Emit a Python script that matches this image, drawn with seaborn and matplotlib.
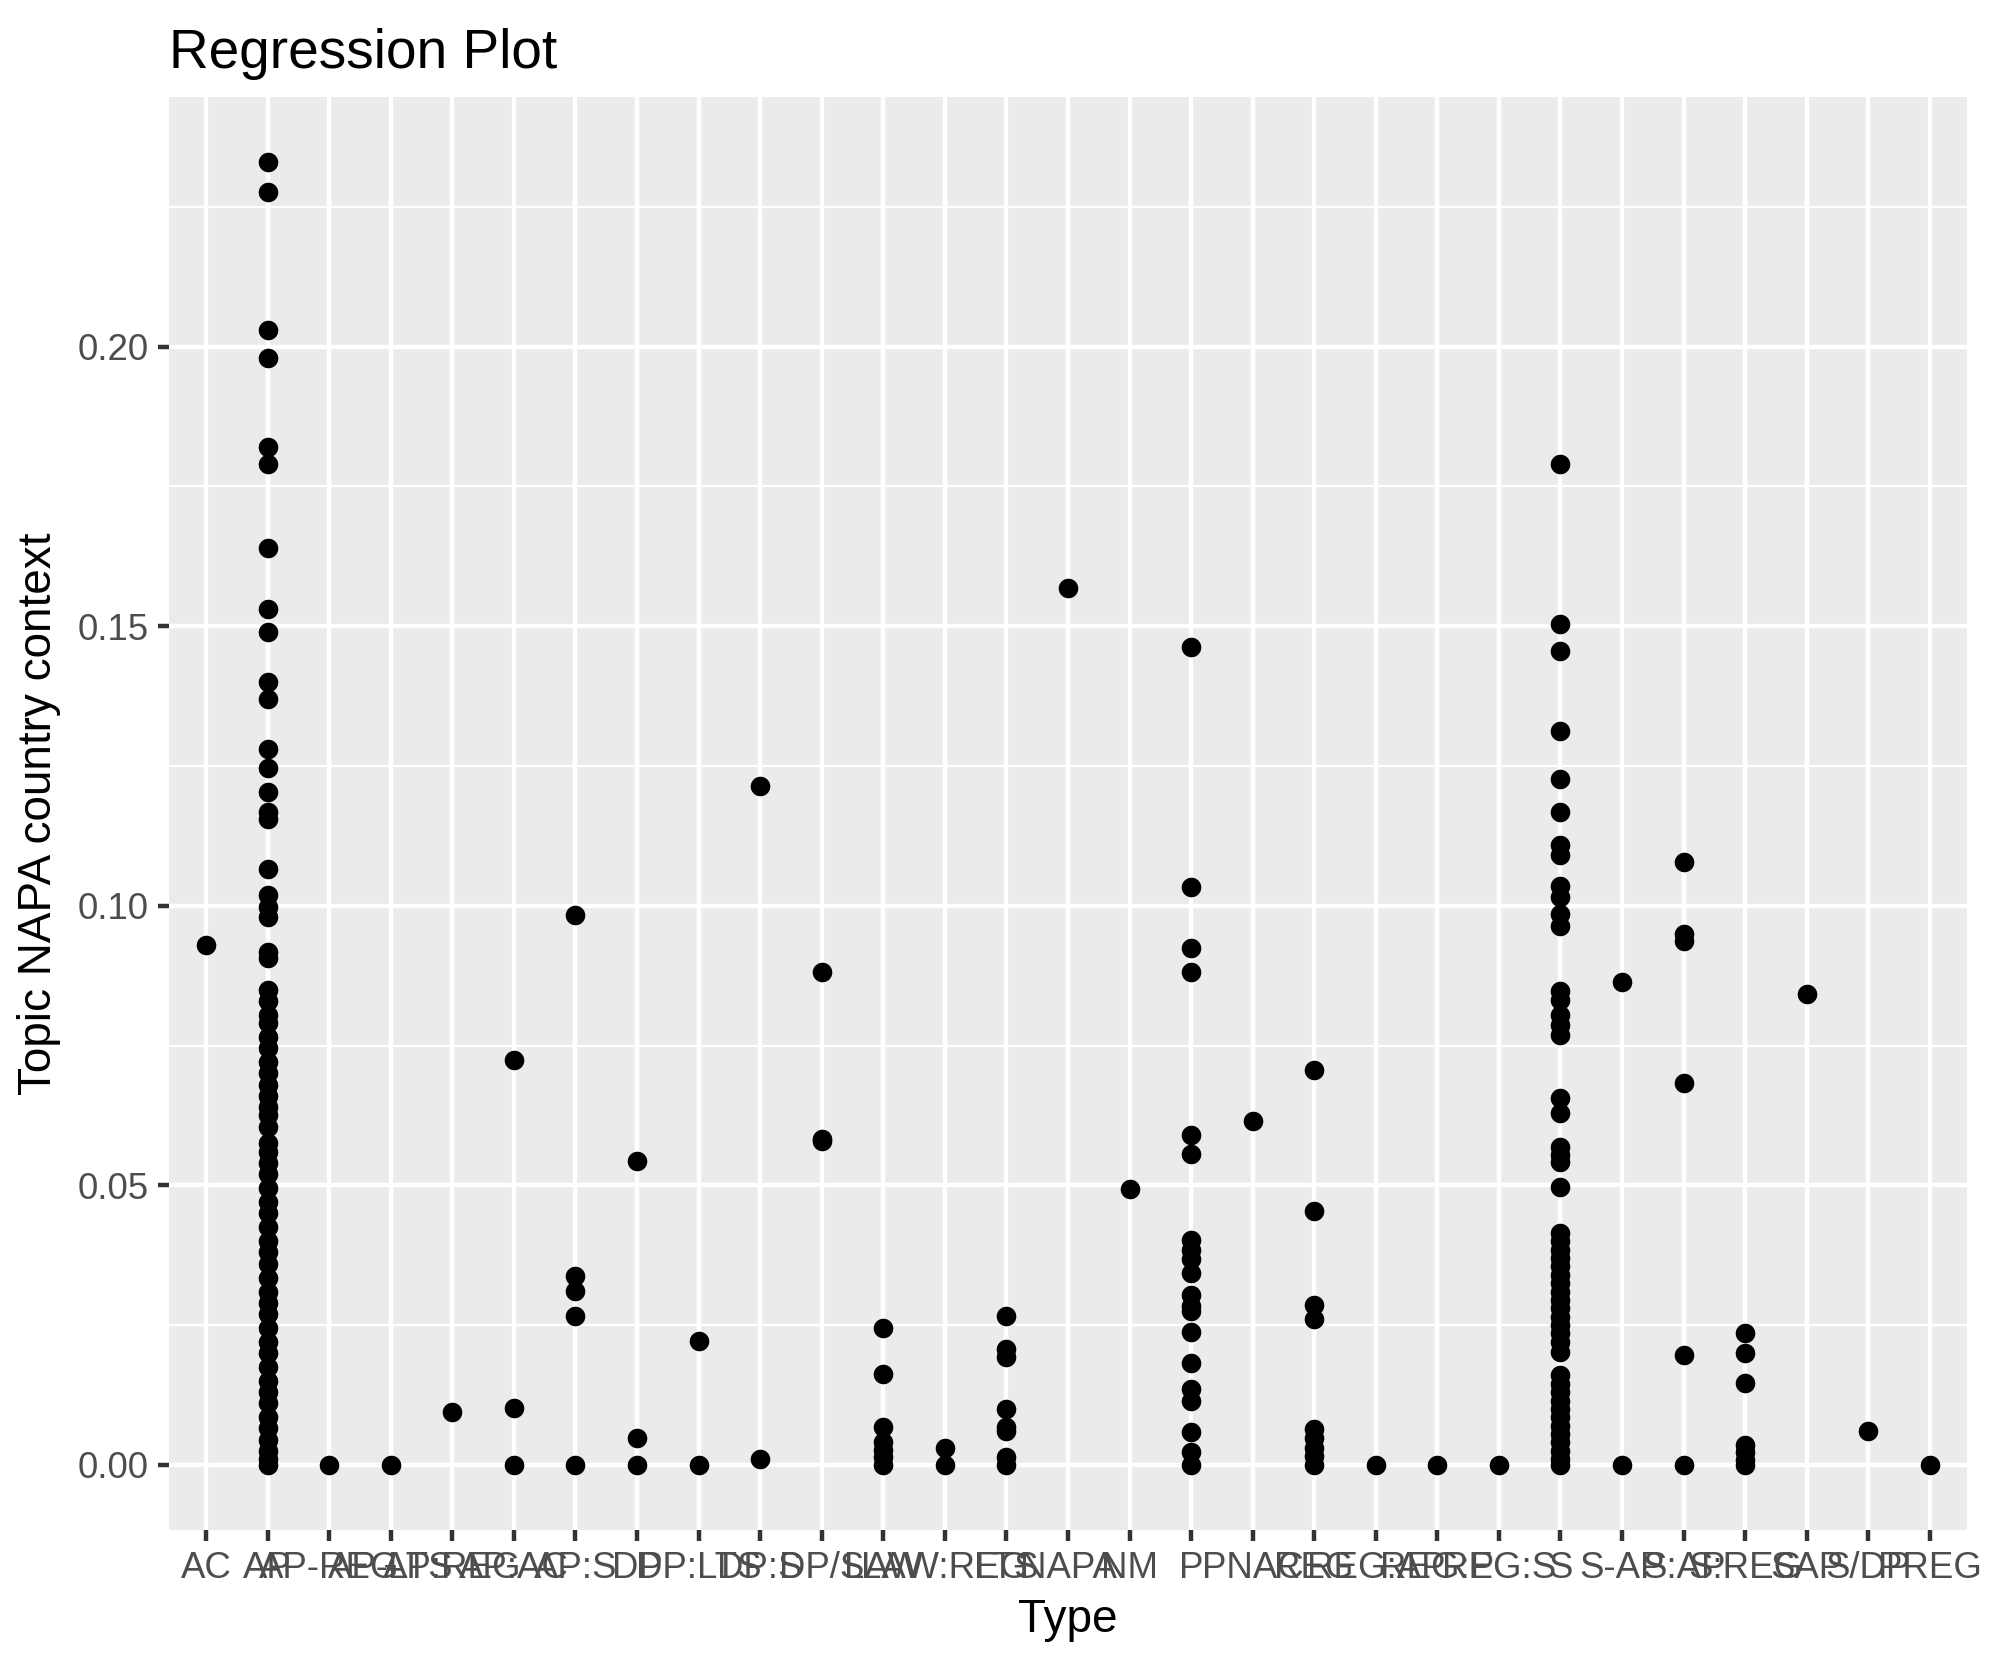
import pandas as pd
import numpy as np
import seaborn as sns
import matplotlib.pyplot as plt
from matplotlib.ticker import MultipleLocator, FormatStrFormatter

# categories in axis order
types = ['AC', 'AP', 'AP-REG', 'AP-LTS', 'AP:REG', 'AP:AC', 'AP:S', 'DP', 'DP:LTS',
         'DP:S', 'DP/S', 'LAW', 'LAW:REG', 'LTS', 'NAPA', 'NM', 'P', 'PNAC', 'REG',
         'REG:AP', 'REG:P', 'REG:S', 'S', 'S-AP', 'S:AP', 'S:REG', 'SAP', 'S/DP', 'PREG']

ac = [0.093]
ap = [0.233, 0.2277, 0.203, 0.198, 0.182, 0.179, 0.164, 0.153, 0.149, 0.140, 0.137,
      0.128, 0.1246, 0.1203, 0.1167, 0.1155, 0.1065, 0.102, 0.0997, 0.098, 0.0917, 0.0906,
      0.085, 0.083, 0.0805, 0.079, 0.0765, 0.0745, 0.072, 0.070, 0.068, 0.066, 0.064,
      0.0625, 0.0605, 0.0575, 0.056, 0.054, 0.052, 0.0495, 0.047, 0.045, 0.0425, 0.040,
      0.038, 0.036, 0.0335, 0.031, 0.029, 0.027, 0.0245, 0.022, 0.020, 0.0175, 0.015,
      0.013, 0.011, 0.0085, 0.0065, 0.0045, 0.0025, 0.001, 0.0]
ap_reg = [0.0]
ap_lts = [0.0]
ap_reg2 = [0.0095]
ap_ac = [0.0724, 0.0102, 0.0]
ap_s = [0.0983, 0.0338, 0.0311, 0.0266, 0.0]
dp = [0.0543, 0.0048, 0.0]
dp_lts = [0.0222, 0.0]
dp_s = [0.1215, 0.0011]
dp_s2 = [0.0881, 0.0583, 0.0579]
law = [0.0245, 0.0163, 0.0068, 0.0041, 0.0027, 0.0014, 0.0]
law_reg = [0.003, 0.0]
lts = [0.0266, 0.0207, 0.0193, 0.0100, 0.0068, 0.0061, 0.0014, 0.0]
napa = [0.1569]
nm = [0.0493]
p = [0.1462, 0.1033, 0.0924, 0.0881, 0.059, 0.0556, 0.0402, 0.0384, 0.0368, 0.0343,
     0.0304, 0.0284, 0.0275, 0.0238, 0.0182, 0.0136, 0.0114, 0.0059, 0.0023, 0.0]
pnac = [0.0615]
reg = [0.0706, 0.0454, 0.0286, 0.0261, 0.0064, 0.0048, 0.003, 0.0016, 0.0]
reg_ap = [0.0]
reg_p = [0.0]
reg_s = [0.0]
s = [0.1791, 0.1504, 0.1456, 0.1313, 0.1227, 0.1167, 0.1108, 0.1091, 0.1036, 0.1016,
     0.0985, 0.0964, 0.0848, 0.0831, 0.0804, 0.0787, 0.0768, 0.0657, 0.063, 0.0568,
     0.0555, 0.0541, 0.0497, 0.0414, 0.040, 0.0385, 0.037, 0.0355, 0.034, 0.0325, 0.031,
     0.0295, 0.028, 0.0265, 0.025, 0.0235, 0.022, 0.0202, 0.016, 0.0145, 0.013, 0.0115,
     0.010, 0.0085, 0.007, 0.0055, 0.004, 0.0025, 0.001, 0.0]
s_ap = [0.0863, 0.0]
s_ap2 = [0.1078, 0.0950, 0.0937, 0.0683, 0.0197, 0.0]
s_reg = [0.0236, 0.0200, 0.0147, 0.0036, 0.0023, 0.0009, 0.0]
sap = [0.0843]
s_dp = [0.0061]
preg = [0.0]

values = [ac, ap, ap_reg, ap_lts, ap_reg2, ap_ac, ap_s, dp, dp_lts, dp_s, dp_s2, law,
          law_reg, lts, napa, nm, p, pnac, reg, reg_ap, reg_p, reg_s, s, s_ap, s_ap2,
          s_reg, sap, s_dp, preg]

df = pd.DataFrame([(t, v) for t, vals in zip(types, values) for v in vals],
                  columns=['Type', 'topic'])

sns.set_theme(style='darkgrid')
plt.rcParams['font.family'] = ['Liberation Sans', 'DejaVu Sans']
plt.rcParams['axes.facecolor'] = '#EBEBEB'
plt.rcParams['grid.color'] = 'white'

fig = plt.figure(figsize=(6.633, 5.55), dpi=300)
ax = fig.add_axes([0.085, 0.0811, 0.9034, 0.8606])

sns.stripplot(data=df, x='Type', y='topic', order=types, jitter=False,
              color='black', size=4.7, linewidth=0, ax=ax)

ax.set_xlim(-0.6, len(types) - 0.4)
ymax = df['topic'].max()
ax.set_ylim(-0.05 * ymax, 1.05 * ymax)
ax.yaxis.set_major_locator(MultipleLocator(0.05))
ax.yaxis.set_minor_locator(MultipleLocator(0.025))
ax.yaxis.set_major_formatter(FormatStrFormatter('%.2f'))

ax.grid(which='major', color='white', linewidth=1.07)
ax.grid(which='minor', axis='y', color='white', linewidth=0.53)
ax.set_axisbelow(True)
for sp in ax.spines.values():
    sp.set_visible(False)

ax.tick_params(which='major', length=2.75, width=1.07, color='#333333',
               labelcolor='#4D4D4D', labelsize=8.8, pad=2.2)
ax.tick_params(which='minor', length=0)
ax.tick_params(axis='x', bottom=True)
ax.tick_params(axis='y', left=True)

ax.set_xlabel('Type', fontsize=11, color='black', labelpad=3)
ax.set_ylabel('Topic NAPA country context', fontsize=11, color='black', labelpad=4)
ax.set_title('Regression Plot', loc='left', fontsize=13.2, color='black', pad=7)

fig.savefig('out.png', dpi=300)
